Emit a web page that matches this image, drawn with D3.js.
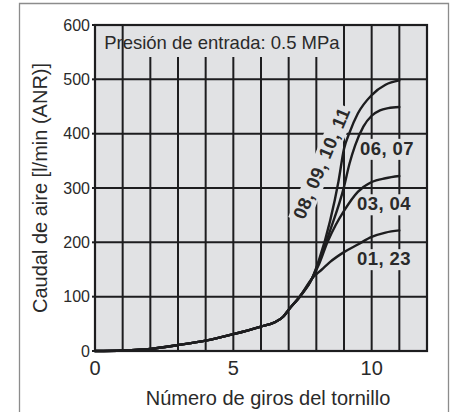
<!DOCTYPE html>
<html><head><meta charset="utf-8">
<script src="https://cdn.jsdelivr.net/npm/d3@7"></script>
<style>
html,body{margin:0;padding:0;background:#fff;}
svg{display:block;font-family:"Liberation Sans",Arial,Helvetica,sans-serif;}
</style></head>
<body>
<svg id="chart" width="455" height="412"></svg>
<script>
// ---- data ----
const xTickValues = [0, 5, 10];
const yTickValues = [0, 100, 200, 300, 400, 500, 600];
const xGridValues = [1,2,3,4,5,6,7,8,9,10,11];
const yGridValues = [100,200,300,400,500];

// shared lower part of every curve
const baseX = [0, 1, 2, 3, 4, 5, 6, 6.5, 6.8, 7, 7.4, 7.85];
const baseY = [0, 1, 4, 11, 19, 31, 45, 53, 63, 76, 100, 134];

// upper parts, per series
const s0123X = [8.2, 8.5, 9, 9.5, 10, 10.5, 11];
const s0123Y = [150, 164, 182, 196, 210, 218, 222];
const s0304X = [8.1, 8.4, 8.7, 9, 9.5, 10, 10.5, 11];
const s0304Y = [160, 200, 232, 258, 293, 311, 318, 322];
const s0607X = [8.1, 8.5, 9, 9.2, 9.4, 9.7, 10, 10.3, 10.6, 11];
const s0607Y = [165, 222, 302, 345, 378, 413, 433, 443, 447, 449];
const s0811X = [8.1, 8.5, 8.8, 9, 9.2, 9.5, 10, 10.5, 11];
const s0811Y = [168, 240, 312, 372, 402, 437, 471, 490, 498];

const seriesNames = ["01, 23", "03, 04", "06, 07", "08, 09, 10, 11"];
const seriesX = [s0123X, s0304X, s0607X, s0811X];
const seriesY = [s0123Y, s0304Y, s0607Y, s0811Y];
// label anchors in data units
const labelX = [9.47, 9.47, 9.58, 7.56];
const labelY = [158, 259, 361, 240];
const labelAngle = [0, 0, 0, -67];

const titleText = "Presión de entrada: 0.5 MPa";
const xTitle = "Número de giros del tornillo";
const yTitle = "Caudal de aire [l/min (ANR)]";

// ---- drawing ----
const svg = d3.select("#chart");
const x = d3.scaleLinear().domain([0, 12]).range([95, 427]);
const y = d3.scaleLinear().domain([0, 600]).range([351, 25]);
const bg = "#e1e2e4";
const ink = "#1d1d1f";
const txt = "#2a2a2a";

// outer frame
svg.append("path").attr("d", "M19.5,412 V3.5 H448.5 V412")
  .attr("fill", "none").attr("stroke", "#8c8c8c").attr("stroke-width", 1.3);

// plot background
svg.append("rect").attr("x", x(0)).attr("y", y(600))
  .attr("width", x(12) - x(0)).attr("height", y(0) - y(600)).attr("fill", bg);

// grid
const grid = svg.append("g").attr("stroke", ink).attr("stroke-width", 2);
grid.selectAll("line.v").data(xGridValues).join("line").attr("class", "v")
  .attr("x1", d => x(d)).attr("x2", d => x(d)).attr("y1", y(600)).attr("y2", y(0));
grid.selectAll("line.h").data(yGridValues).join("line").attr("class", "h")
  .attr("x1", x(0)).attr("x2", x(12)).attr("y1", d => y(d)).attr("y2", d => y(d));

// title mask + text
svg.append("rect").attr("x", x(1) + 2).attr("y", y(600) + 1)
  .attr("width", x(9) - x(1) - 4).attr("height", 31).attr("fill", bg);
svg.append("text").attr("x", x(0.33)).attr("y", y(555.7))
  .attr("font-size", 18.5).attr("fill", txt).text(titleText);

// label masks (below curves)
const maskG = svg.append("g");
const textG = svg.append("g");
seriesNames.forEach((name, i) => {
  const tf = `translate(${x(labelX[i])},${y(labelY[i])}) rotate(${labelAngle[i]})`;
  const t = textG.append("text").attr("transform", tf)
    .attr("font-size", 18.5).attr("font-weight", "bold")
    .attr("letter-spacing", labelAngle[i] ? 0.5 : 0.4)
    .attr("fill", txt).text(name);
  const b = t.node().getBBox();
  maskG.append("rect").attr("transform", tf)
    .attr("x", b.x - 3).attr("y", b.y + 1)
    .attr("width", b.width + 5).attr("height", b.height).attr("fill", bg);
});

// curves
const line = d3.line().x(d => x(d[0])).y(d => y(d[1])).curve(d3.curveMonotoneX);
const curveG = svg.append("g");
seriesNames.forEach((name, i) => {
  const pts = baseX.map((v, j) => [v, baseY[j]])
    .concat(seriesX[i].map((v, j) => [v, seriesY[i][j]]));
  curveG.append("path").attr("d", line(pts))
    .attr("fill", "none").attr("stroke", ink).attr("stroke-width", 2.4)
    .attr("stroke-linejoin", "round").attr("stroke-linecap", "round");
});
// label text above curves
svg.node().appendChild(textG.node());

// border
svg.append("rect").attr("x", x(0)).attr("y", y(600))
  .attr("width", x(12) - x(0)).attr("height", y(0) - y(600))
  .attr("fill", "none").attr("stroke", ink).attr("stroke-width", 2.2);

// y axis ticks and labels
const yAx = svg.append("g");
yAx.selectAll("line").data(yTickValues).join("line")
  .attr("x1", x(0) - 3).attr("x2", x(0)).attr("y1", d => y(d)).attr("y2", d => y(d))
  .attr("stroke", ink).attr("stroke-width", 2);
yAx.selectAll("text").data(yTickValues).join("text")
  .attr("x", 90).attr("y", d => y(d)).attr("dy", "0.36em")
  .attr("text-anchor", "end").attr("font-size", 16).attr("fill", txt)
  .text(d => d);

// x axis labels
svg.append("g").selectAll("text").data(xTickValues).join("text")
  .attr("x", d => x(d)).attr("y", 375).attr("text-anchor", "middle")
  .attr("font-size", 20).attr("fill", txt).text(d => d);

// axis titles
svg.append("text").attr("x", 268).attr("y", 405).attr("text-anchor", "middle")
  .attr("font-size", 20).attr("fill", txt).text(xTitle);
svg.append("text").attr("transform", `translate(47,${(y(0) + y(600)) / 2}) rotate(-90)`)
  .attr("text-anchor", "middle").attr("font-size", 20).attr("fill", txt).text(yTitle);
</script>
</body></html>
